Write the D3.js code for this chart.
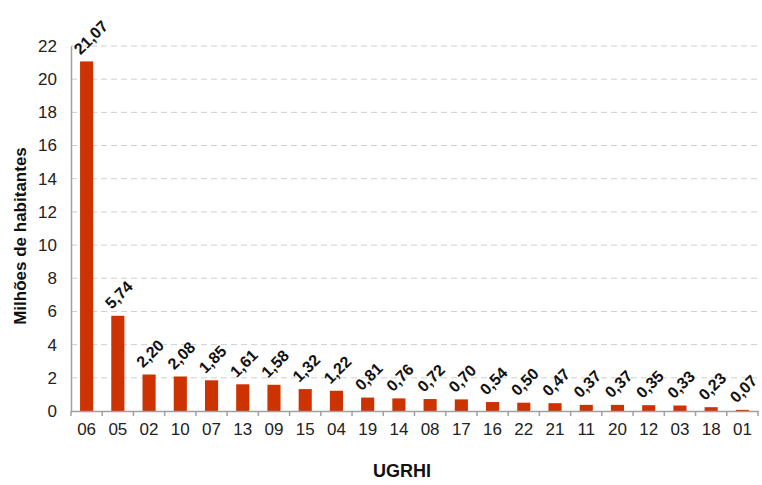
<!DOCTYPE html>
<html><head><meta charset="utf-8">
<script src="https://cdn.jsdelivr.net/npm/d3@7"></script>
<style>body{margin:0;background:#fff}svg{display:block}</style>
</head><body>
<svg id="c" width="762" height="485"></svg>
<script>
const categories = ["06","05","02","10","07","13","09","15","04","19","14","08","17","16","22","21","11","20","12","03","18","01"];
const values = [21.07,5.74,2.20,2.08,1.85,1.61,1.58,1.32,1.22,0.81,0.76,0.72,0.70,0.54,0.50,0.47,0.37,0.37,0.35,0.33,0.23,0.07];
const yTicks = [0,2,4,6,8,10,12,14,16,18,20,22];

(function(){
const svg = d3.select("#c");
const mLeft = 71, mRight = 758, mTop = 46, mBottom = 411;
const x = d3.scaleBand().domain(categories).range([mLeft, mRight]).paddingInner(0.58).paddingOuter(0.29);
const y = d3.scaleLinear().domain([0,22]).range([mBottom, mTop]);
const font = "'Liberation Sans', Arial, sans-serif";

// gridlines
svg.append("g").selectAll("line").data(yTicks.filter(d=>d>0)).join("line")
  .attr("x1", mLeft).attr("x2", 760).attr("y1", d=>y(d)).attr("y2", d=>y(d))
  .attr("stroke", "#cfcfcf").attr("stroke-width", 1).attr("stroke-dasharray", "6,4");

// bars
svg.append("g").selectAll("rect").data(categories).join("rect")
  .attr("x", d=>x(d)).attr("width", x.bandwidth())
  .attr("y", (d,i)=>y(values[i])).attr("height", (d,i)=>mBottom - y(values[i]))
  .attr("fill", "#cc3300");

// y axis
const ya = svg.append("g").attr("transform", `translate(${mLeft},0)`)
  .call(d3.axisLeft(y).tickValues(yTicks).tickSize(0).tickPadding(14).tickFormat(d3.format("d")));
ya.select(".domain").attr("stroke", "#a0a0a0").attr("stroke-width", 1.5);
ya.selectAll("text").attr("font-family", font).attr("font-size", 17).attr("fill", "#222");

// x axis
const xa = svg.append("g").attr("transform", `translate(0,${mBottom})`)
  .call(d3.axisBottom(x).tickSize(0).tickPadding(12));
xa.select(".domain").attr("stroke", "#a0a0a0").attr("stroke-width", 1.5);
xa.selectAll("text").attr("font-family", font).attr("font-size", 17).attr("fill", "#222");
const step = x.step();
xa.append("g").selectAll("line").data(d3.range(categories.length + 1)).join("line")
  .attr("x1", i => mLeft + i*step).attr("x2", i => mLeft + i*step)
  .attr("y1", 0).attr("y2", 5).attr("stroke", "#a0a0a0").attr("stroke-width", 1.5);

// value labels
svg.append("g").selectAll("text").data(categories).join("text")
  .attr("transform", (d,i)=>`translate(${x(d) + x.bandwidth()/2 - 6},${y(values[i]) - 6}) rotate(-45)`)
  .attr("font-family", font).attr("font-size", 16).attr("font-weight", "bold").attr("fill", "#111")
  .text((d,i)=>values[i].toFixed(2).replace(".", ","));

// axis titles
svg.append("text").attr("transform", "translate(26,236) rotate(-90)")
  .attr("text-anchor", "middle").attr("font-family", font).attr("font-size", 17).attr("font-weight", "bold")
  .attr("fill", "#111").text("Milhões de habitantes");
svg.append("text").attr("x", 402).attr("y", 477)
  .attr("text-anchor", "middle").attr("font-family", font).attr("font-size", 18).attr("font-weight", "bold")
  .attr("fill", "#111").text("UGRHI");
})();
</script>
</body></html>
